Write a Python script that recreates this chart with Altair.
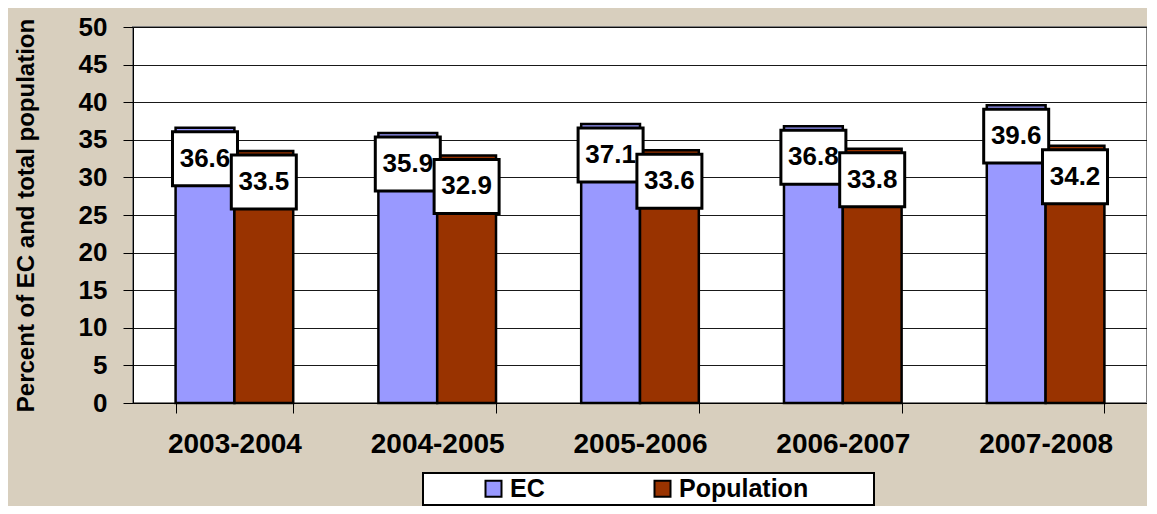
import altair as alt
import pandas as pd

years = ["2003-2004", "2004-2005", "2005-2006", "2006-2007", "2007-2008"]
ec_values = [36.6, 35.9, 37.1, 36.8, 39.6]
pop_values = [33.5, 32.9, 33.6, 33.8, 34.2]
series = ["EC", "Population"]
colors = ["#9999FF", "#993300"]
y_ticks = list(range(0, 51, 5))

rows = []
for i, yr in enumerate(years):
    rows.append({"year": yr, "series": "EC", "value": ec_values[i]})
    rows.append({"year": yr, "series": "Population", "value": pop_values[i]})
df = pd.DataFrame(rows)

FONT = "Liberation Sans"
PAD = "\u00a0" * 9 + "\u200b"

x = alt.X(
    "year:N", sort=years,
    scale=alt.Scale(paddingInner=0.42, paddingOuter=0.21),
    axis=alt.Axis(title=None, tickBand="extent", tickSize=10, labelFontSize=28,
                  labelFontWeight="bold", labelPadding=17, labelColor="black",
                  domainColor="black", tickColor="black", labelAngle=0, grid=False,
                  labelFont=FONT),
)
xo = alt.XOffset("series:N", sort=series, scale=alt.Scale(paddingInner=0, paddingOuter=0))
y_scale = alt.Scale(domain=[0, 50], nice=False)
y_axis = alt.Axis(title="Percent of EC and total population", values=y_ticks,
                  labelOverlap=False,
                  titleFontSize=24, titleFont=FONT, titleFontWeight="bold",
                  titleColor="black", titlePadding=40,
                  labelFontSize=26, labelFont=FONT, labelFontWeight="bold",
                  labelColor="black", labelPadding=16, tickSize=10,
                  tickColor="black", domainColor="black",
                  gridColor="black", gridWidth=1, gridOpacity=0.9)

color = alt.Color(
    "series:N", sort=series,
    scale=alt.Scale(domain=series, range=colors),
    legend=alt.Legend(
        title=None, orient="none", legendX=290, legendY=446, direction="horizontal",
        fillColor="white", strokeColor="black", padding=3,
        symbolType="square", symbolSize=256, symbolStrokeColor="black",
        symbolStrokeWidth=2, symbolOffset=55, columnPadding=50, labelLimit=400,
        labelFontSize=25, labelFontWeight="bold", labelFont=FONT, labelColor="black",
        labelExpr="datum.label == 'Population' ? datum.label + '" + PAD + "' : datum.label",
    ),
)

base = alt.Chart(df)

bars = base.mark_bar(stroke="black", strokeWidth=2.5).encode(
    x=x, xOffset=xo,
    y=alt.Y("value:Q", scale=y_scale, axis=y_axis),
    color=color,
)

def label_layers(name):
    src = base.transform_filter(alt.datum.series == name).transform_calculate(
        top="datum.value - 0.53", bot="datum.value - 7.7", mid="datum.value - 4.1"
    )
    box = src.mark_bar(size=65, fill="white", stroke="black", strokeWidth=3).encode(
        x=x, xOffset=xo,
        y=alt.Y("top:Q", scale=y_scale, axis=y_axis), y2="bot:Q",
    )
    txt = src.mark_text(fontSize=26, fontWeight="bold", font=FONT, color="black",
                        baseline="middle").encode(
        x=x, xOffset=xo,
        y=alt.Y("mid:Q", scale=y_scale, axis=y_axis),
        text=alt.Text("value:Q", format=".1f"),
    )
    return [box, txt]

layers = [bars] + label_layers("EC") + label_layers("Population")

chart = alt.layer(*layers).properties(
    width=1014, height=376,
    background="#D8CFBE",
    padding={"top": 6, "left": 6, "right": 0, "bottom": 0},
).configure_view(
    fill="white", stroke="#808080", strokeWidth=2
).configure_legend(strokeWidth=2)

chart.save("out.html", embed_options={"renderer": "svg", "actions": False})
